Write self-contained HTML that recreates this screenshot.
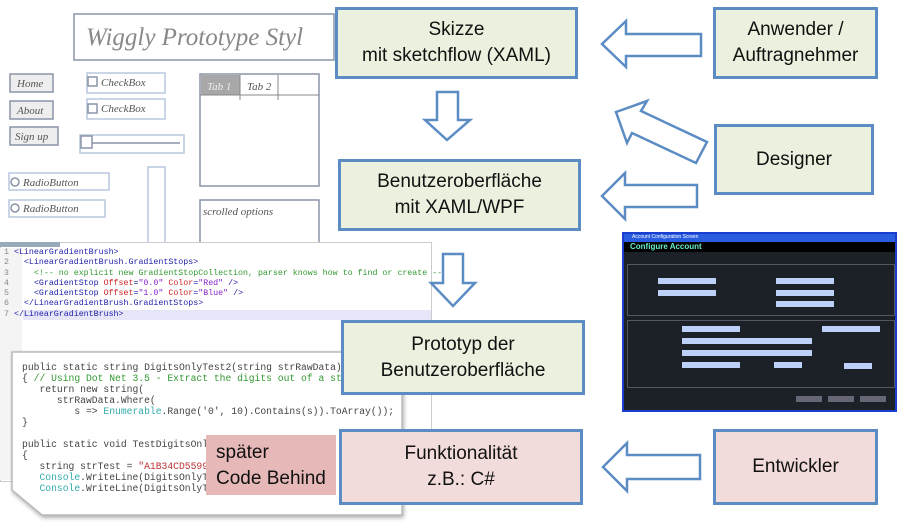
<!DOCTYPE html>
<html><head><meta charset="utf-8"><style>
body{margin:0;width:910px;height:530px;background:#fff;position:relative;overflow:hidden;font-family:"Liberation Sans",sans-serif}
.box{position:absolute;border:3px solid #5c8cc4;box-sizing:border-box;display:flex;align-items:center;justify-content:center;text-align:center;font-size:19px;line-height:26px;color:#111}
.g{background:#ebf1de}.r{background:#f2dcdb}
.mono{font-family:"Liberation Mono",monospace}
</style></head><body>
<!-- sketch area -->
<svg style="position:absolute;left:0;top:0" width="335" height="245">
<g fill="none" stroke="#8a94a8" stroke-width="1.5">
<rect x="74" y="14" width="260" height="46"/>
<rect x="10" y="74" width="43" height="18" fill="#eee"/>
<rect x="10" y="101" width="43" height="18" fill="#eee"/>
<rect x="10" y="127" width="48" height="18" fill="#eee"/>
<rect x="87" y="73" width="78" height="20" stroke="#b8c8e0"/>
<rect x="87" y="99" width="78" height="20" stroke="#b8c8e0"/>
<rect x="88" y="77" width="9" height="9"/><rect x="88" y="104" width="9" height="9"/>
<rect x="80" y="135" width="104" height="18" stroke="#b8c8e0"/>
<rect x="81" y="136" width="11" height="12"/><line x1="92" y1="143" x2="180" y2="143"/>
<rect x="9" y="173" width="100" height="17" stroke="#b8c8e0"/>
<rect x="9" y="200" width="96" height="17" stroke="#b8c8e0"/>
<circle cx="15" cy="182" r="4"/><circle cx="15" cy="208" r="4"/>
<rect x="148" y="167" width="17" height="78" stroke="#b8c8e0"/>
<rect x="200" y="74" width="119" height="112"/>
<rect x="200" y="200" width="119" height="45"/>
</g>
<rect x="201" y="75" width="39" height="20" fill="#a8a8a8"/>
<line x1="240" y1="75" x2="240" y2="100" stroke="#888"/><line x1="278" y1="75" x2="278" y2="100" stroke="#888"/>
<line x1="200" y1="95" x2="319" y2="95" stroke="#888"/>
<g font-family="Liberation Serif,serif" font-style="italic" fill="#555" font-size="11">
<text x="86" y="45" font-size="25" fill="#888">Wiggly Prototype Styl</text>
<text x="17" y="87">Home</text><text x="17" y="114">About</text><text x="15" y="140">Sign up</text>
<text x="101" y="86">CheckBox</text><text x="101" y="112">CheckBox</text>
<text x="23" y="186">RadioButton</text><text x="23" y="212">RadioButton</text>
<text x="207" y="90" fill="#eee">Tab 1</text><text x="247" y="90">Tab 2</text>
<text x="203" y="215">scrolled options</text>
</g>
</svg>
<!-- xaml editor -->
<div style="position:absolute;left:0;top:242px;width:432px;height:240px;border:1px solid #ccc;background:#fff;box-sizing:border-box"></div>
<div style="position:absolute;left:0;top:242px;width:60px;height:5px;background:#9ab"></div>
<div style="position:absolute;left:0;top:248px;width:22px;height:232px;background:#f4f4f4"></div>
<div style="position:absolute;left:23px;top:310px;width:408px;height:10px;background:#e6e6f8"></div>
<div class="mono" style="position:absolute;left:4px;top:248px;font-size:8.3px;line-height:10.3px;white-space:pre;color:#22a"><span style="color:#888">1 </span>&lt;LinearGradientBrush&gt;
<span style="color:#888">2 </span>  &lt;LinearGradientBrush.GradientStops&gt;
<span style="color:#888">3 </span>    <span style="color:#393">&lt;!-- no explicit new GradientStopCollection, parser knows how to find or create --</span>
<span style="color:#888">4 </span>    &lt;GradientStop <span style="color:#c22">Offset</span>=<span style="color:#82c">"0.0"</span> <span style="color:#c22">Color</span>=<span style="color:#82c">"Red"</span> /&gt;
<span style="color:#888">5 </span>    &lt;GradientStop <span style="color:#c22">Offset</span>=<span style="color:#82c">"1.0"</span> <span style="color:#c22">Color</span>=<span style="color:#82c">"Blue"</span> /&gt;
<span style="color:#888">6 </span>  &lt;/LinearGradientBrush.GradientStops&gt;
<span style="color:#888">7 </span>&lt;/LinearGradientBrush&gt;</div>
<!-- code card -->
<svg style="position:absolute;left:10px;top:350px" width="400" height="180"><polygon points="2,2 392,2 392,165 32,165 2,140" fill="#fff" stroke="#bbb" stroke-width="1.5" style="filter:drop-shadow(1px 2px 2px #aaa)"/></svg>
<div class="mono" style="position:absolute;left:22px;top:362px;width:380px;overflow:hidden;font-size:9.7px;line-height:11px;white-space:pre;color:#444">public static string DigitsOnlyTest2(string strRawData)
{ <span style="color:#393">// Using Dot Net 3.5 - Extract the digits out of a st</span>
   return new string(
      strRawData.Where(
         s =&gt; <span style="color:#3aa">Enumerable</span>.Range('0', 10).Contains(s)).ToArray());
}

public static void TestDigitsOnl
{
   string strTest = <span style="color:#b33">"A1B34CD5599</span>
   <span style="color:#3aa">Console</span>.WriteLine(DigitsOnlyT
   <span style="color:#3aa">Console</span>.WriteLine(DigitsOnlyT</div>
<div style="position:absolute;left:206px;top:435px;width:130px;height:60px;background:#e6b9b8;font-size:19px;line-height:26px;padding:5px 0 0 10px;box-sizing:border-box;color:#111">später<br>Code Behind</div>
<!-- screenshot -->
<div style="position:absolute;left:622px;top:232px;width:275px;height:180px;background:#1c2128;border:2px solid #1a3fd0;box-sizing:border-box">
<div style="height:8px;background:#2a5ce0;color:#fff;font-size:5px;padding-left:8px">Account Configuration Screen</div>
<div style="height:10px;background:#000;color:#6ec;font-size:8px;font-weight:bold;padding-left:6px">Configure Account</div>
<div style="position:absolute;left:3px;top:30px;width:266px;height:50px;border:1px solid #556"></div>
<div style="position:absolute;left:3px;top:86px;width:266px;height:66px;border:1px solid #556"></div>
<div style="position:absolute;left:34px;top:44px;width:58px;height:6px;background:#bcd0f8"></div>
<div style="position:absolute;left:34px;top:56px;width:58px;height:6px;background:#bcd0f8"></div>
<div style="position:absolute;left:152px;top:44px;width:58px;height:6px;background:#bcd0f8"></div>
<div style="position:absolute;left:152px;top:56px;width:58px;height:6px;background:#bcd0f8"></div>
<div style="position:absolute;left:152px;top:67px;width:58px;height:6px;background:#bcd0f8"></div>
<div style="position:absolute;left:58px;top:92px;width:58px;height:6px;background:#bcd0f8"></div>
<div style="position:absolute;left:198px;top:92px;width:58px;height:6px;background:#bcd0f8"></div>
<div style="position:absolute;left:58px;top:104px;width:130px;height:6px;background:#bcd0f8"></div>
<div style="position:absolute;left:58px;top:116px;width:130px;height:6px;background:#bcd0f8"></div>
<div style="position:absolute;left:58px;top:128px;width:58px;height:6px;background:#bcd0f8"></div>
<div style="position:absolute;left:150px;top:128px;width:28px;height:6px;background:#bcd0f8"></div>
<div style="position:absolute;left:220px;top:129px;width:28px;height:6px;background:#bcd0f8"></div>
<div style="position:absolute;left:172px;top:162px;width:26px;height:6px;background:#667"></div>
<div style="position:absolute;left:204px;top:162px;width:26px;height:6px;background:#667"></div>
<div style="position:absolute;left:236px;top:162px;width:26px;height:6px;background:#667"></div>
</div>
<!-- boxes -->
<div class="box g" style="left:335px;top:7px;width:243px;height:72px">Skizze<br>mit sketchflow (XAML)</div>
<div class="box g" style="left:713px;top:7px;width:165px;height:72px">Anwender /<br>Auftragnehmer</div>
<div class="box g" style="left:338px;top:159px;width:243px;height:72px">Benutzeroberfläche<br>mit XAML/WPF</div>
<div class="box g" style="left:714px;top:124px;width:160px;height:71px">Designer</div>
<div class="box g" style="left:341px;top:320px;width:244px;height:75px">Prototyp der<br>Benutzeroberfläche</div>
<div class="box r" style="left:339px;top:429px;width:244px;height:76px">Funktionalität<br>z.B.: C#</div>
<div class="box r" style="left:713px;top:429px;width:165px;height:76px">Entwickler</div>
<!-- arrows -->
<svg style="position:absolute;left:0;top:0" width="910" height="530"><g fill="#fff" stroke="#5c8cc4" stroke-width="2.5" stroke-linejoin="miter">
<polygon points="602,44 626,21 626,34 701,34 701,56 626,56 626,67"/>
<polygon points="602,196 625,173 625,185 697,185 697,207 625,207 625,219"/>
<polygon points="603,467 627,443 627,455 700,455 700,479 627,479 627,491"/>
<polygon points="616,112 647,101 641,111 707,142 696,163 632,133 627,143"/>
<polygon points="437,92 458,92 458,120 470,120 447,140 425,120 437,120"/>
<polygon points="443,254 463,254 463,283 475,283 453,306 431,283 443,283"/>
</g></svg>
</body></html>
